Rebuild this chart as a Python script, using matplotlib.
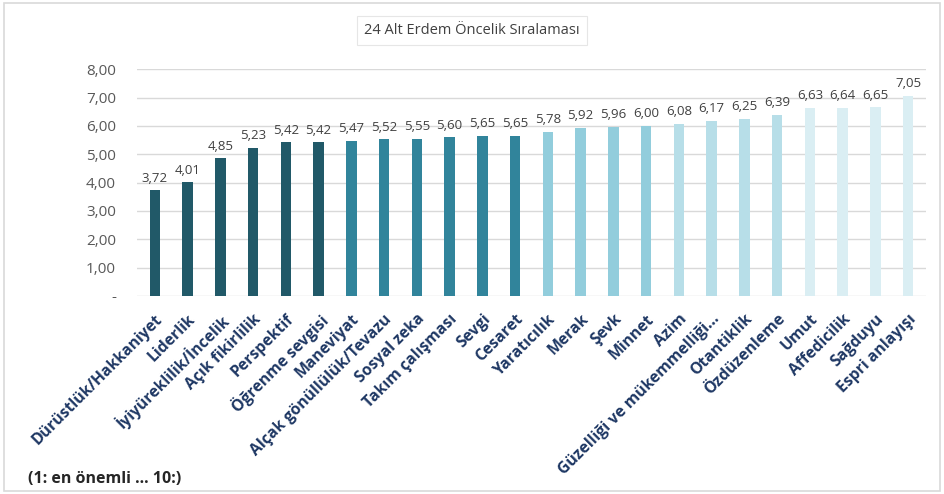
import matplotlib.pyplot as plt
from matplotlib.patches import Rectangle

plt.rcParams['font.family'] = ['Open Sans', 'DejaVu Sans']

# 24 alt erdem, ortalama sıralama puanları
erdemler = ["Dürüstlük/Hakkaniyet", "Liderlik", "İyiyüreklilik/İncelik", "Açık fikirlilik",
            "Perspektif", "Öğrenme sevgisi", "Maneviyat", "Alçak gönüllülük/Tevazu",
            "Sosyal zeka", "Takım çalışması", "Sevgi", "Cesaret", "Yaratıcılık", "Merak",
            "Şevk", "Minnet", "Azim", "Güzelliği ve mükemmelliği...", "Otantiklik",
            "Özdüzenleme", "Umut", "Affedicilik", "Sağduyu", "Espri anlayışı"]
puanlar = [3.72, 4.01, 4.85, 5.23, 5.42, 5.42, 5.47, 5.52, 5.55, 5.60, 5.65, 5.65,
           5.78, 5.92, 5.96, 6.00, 6.08, 6.17, 6.25, 6.39, 6.63, 6.64, 6.65, 7.05]
renkler = ["#215968"] * 6 + ["#31849B"] * 6 + ["#92CDDC"] * 4 + ["#B7DEE8"] * 4 + ["#DAEEF3"] * 4
yticks = [0, 1, 2, 3, 4, 5, 6, 7, 8]

fig = plt.figure(figsize=(9.44, 4.94), dpi=100)
ax = fig.add_axes([0.145, 0.401, 0.836, 0.459])

x = range(len(erdemler))
ax.bar(x, puanlar, width=0.32, color=renkler, zorder=2)

for xi, v in zip(x, puanlar):
    ax.text(xi, v + 0.2, f"{v:.2f}".replace(".", ","), ha="center", va="bottom",
            fontsize=9.5, color="#404040")

ax.set_ylim(0, 8)
ax.set_xlim(-0.55, 23.55)
ax.set_yticks(yticks)
ax.set_yticklabels(["-" if t == 0 else f"{t:.2f}".replace(".", ",") for t in yticks],
                   fontsize=11, color="#595959")
ax.set_xticks(list(x))
ax.set_xticklabels(erdemler, rotation=45, ha="right", rotation_mode="anchor",
                   fontsize=11.3, fontweight="bold", color="#1F3864")
ax.tick_params(axis="both", length=0)
ax.tick_params(axis="y", pad=15)
ax.tick_params(axis="x", pad=11)
ax.grid(axis="y", color="#D9D9D9", linewidth=1, zorder=0)
for s in ax.spines.values():
    s.set_visible(False)

fig.text(0.5, 0.938, "24 Alt Erdem Öncelik Sıralaması", ha="center", va="center",
         fontsize=10.5, color="#404040",
         bbox=dict(boxstyle="square,pad=0.5", fc="white", ec="#E6E6E6", lw=0.8))
fig.text(0.03, 0.03, "(1: en önemli ... 10:)", ha="left", va="center",
         fontsize=11.5, fontweight="bold", color="#262626")

fig.patches.append(Rectangle((0.004, 0.006), 0.992, 0.988, transform=fig.transFigure,
                             fill=False, ec="#D9D9D9", lw=1.2))

fig.savefig("out.png", dpi=100)
